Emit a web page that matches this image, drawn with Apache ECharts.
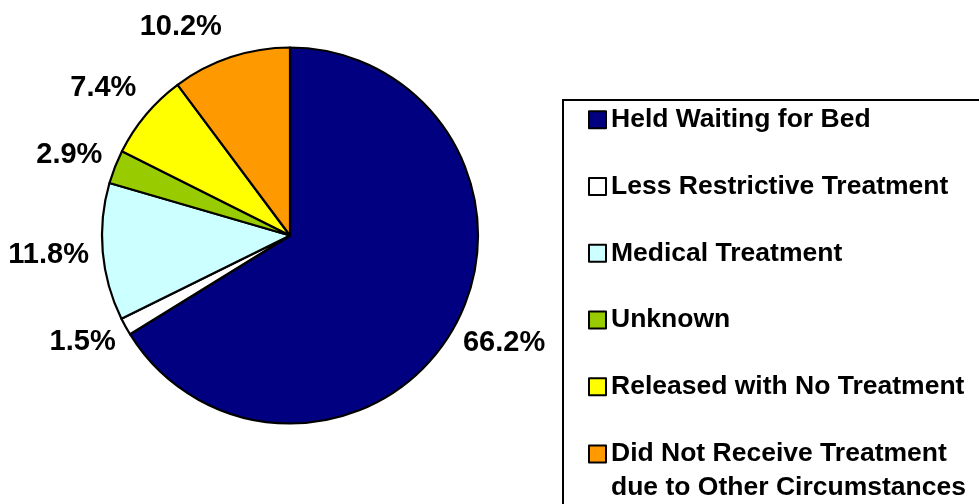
<!DOCTYPE html>
<html><head><meta charset="utf-8">
<script src="https://cdn.jsdelivr.net/npm/echarts@6/dist/echarts.min.js"></script>
<style>html,body{margin:0;padding:0;background:#fff}#c{width:979px;height:504px}</style>
</head><body><div id="c"></div>
<script>
// ---- data ----
const categories = [
  'Held Waiting for Bed',
  'Less Restrictive Treatment',
  'Medical Treatment',
  'Unknown',
  'Released with No Treatment',
  'Did Not Receive Treatment\ndue to Other Circumstances'
];
const percentages = [66.2, 1.5, 11.8, 2.9, 7.4, 10.2];
const colors = ['#000080', '#FFFFFF', '#CCFFFF', '#99CC00', '#FFFF00', '#FF9900'];

// ---- style / layout ----
const CX = 290, CY = 235.5, R = 188;
const FONT = '"Liberation Sans", Arial, Helvetica, sans-serif';
const LABEL_R = 204, LABEL_HH = 16;
const labelNudge = { 2: [2, 0], 4: [-5, -6], 5: [-32, 0] };

const total = percentages.reduce((a, b) => a + b, 0);
function midAngle(i) {
  let s = 0;
  for (let k = 0; k < i; k++) s += percentages[k];
  return (s + percentages[i] / 2) / total * 2 * Math.PI;
}

const legendCommon = {
  orient: 'vertical',
  left: 588,
  padding: 0,
  itemWidth: 17,
  itemHeight: 17,
  itemGap: 33.25,
  icon: 'rect',
  selectedMode: false,
  itemStyle: { borderColor: '#000', borderWidth: 2 },
  textStyle: { fontFamily: FONT, fontWeight: 'bold', fontSize: 26.5, color: '#000', lineHeight: 33.5 }
};

const chart = echarts.init(document.getElementById('c'), null, { renderer: 'canvas' });
chart.setOption({
  backgroundColor: '#fff',
  animation: false,
  legend: [
    Object.assign({}, legendCommon, { top: 103, data: categories.slice(0, 5) }),
    Object.assign({}, legendCommon, {
      top: 403.75,
      data: categories.slice(5),
      formatter: name => '\n' + name
    })
  ],
  graphic: [{
    type: 'rect', silent: true,
    shape: { x: 563, y: 100, width: 600, height: 600 },
    style: { fill: 'none', stroke: '#000', lineWidth: 2 }
  }],
  series: [{
    type: 'pie',
    center: [CX, CY],
    radius: R,
    startAngle: 90,
    clockwise: true,
    avoidLabelOverlap: false,
    emphasis: { disabled: true },
    itemStyle: { borderColor: '#000', borderWidth: 2.2 },
    data: categories.map((n, i) => ({ name: n, value: percentages[i], itemStyle: { color: colors[i] } })),
    label: {
      show: true,
      position: 'outside',
      formatter: p => p.value.toFixed(1) + '%',
      fontFamily: FONT, fontWeight: 'bold', fontSize: 29, color: '#000'
    },
    labelLine: { show: false },
    labelLayout: function (params) {
      const i = params.dataIndex;
      const a = midAngle(i);
      const sx = Math.sin(a), sy = -Math.cos(a);
      const hw = params.labelRect.width / 2;
      let x = CX + sx * (LABEL_R + hw);
      let y = CY + sy * (LABEL_R + LABEL_HH);
      const n = labelNudge[i];
      if (n) { x += n[0]; y += n[1]; }
      return { x: x, y: y, align: 'center', verticalAlign: 'middle' };
    }
  }]
});
</script>
</body></html>
